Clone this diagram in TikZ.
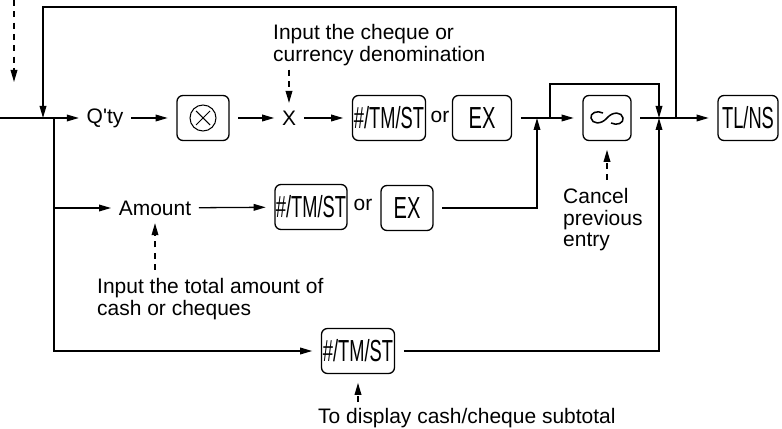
\documentclass[tikz,border=0pt]{standalone}
\usepackage{fontspec}
\setmainfont{Liberation Sans}
\usepackage{tikz}
\usetikzlibrary{arrows.meta, positioning, calc}
\newcommand{\keycap}[2][0.6]{\scalebox{#1}[1]{\fontsize{26}{26}\selectfont #2}}

\begin{document}
\begin{tikzpicture}[
  x=0.03cm, y=-0.03cm,
  font=\fontsize{17.9}{18.5}\selectfont,
  line/.style={line width=1.1pt},
  arr/.style={line, -{Triangle[length=0.36cm,width=0.2cm]}},
  darr/.style={arr, dash pattern=on 0.18cm off 0.16cm},
  key/.style={draw, line width=1.1pt, rounded corners=0.18cm, minimum height=1.35cm, inner sep=0pt, outer sep=0.28cm},
  word/.style={inner sep=1pt, outer sep=0.2cm},
  note/.style={align=left, inner sep=0pt, anchor=north west}
]
  \useasboundingbox (0,0) rectangle (782,429);

  \coordinate (start)  at (0,118);
  \coordinate (loopL)  at (43,118);
  \coordinate (branch) at (54,118);
  \coordinate (topy)   at (0,7);
  \coordinate (dtop)   at (14,0);
  \coordinate (dtip)   at (14,82);

  \node[word] (qty) at (105,118) {Q\textquotesingle ty};
  \node[key, minimum width=1.56cm] (mul) at (203,118) {};
  \node[word] (xx) at (289,118) {X};
  \node[key, minimum width=2.19cm] (hash1) at (389,118) {\keycap{\#/TM/ST}};
  \node (or1) at (440,117) {or};
  \node[key, minimum width=1.77cm] (ex1) at (482,118) {\keycap[0.66]{EX}};
  \coordinate (j1)  at (537,118);
  \coordinate (byp) at (550,118);
  \node[key, minimum width=1.44cm] (inf) at (607,118) {};
  \coordinate (j2) at (659,118);
  \coordinate (j3) at (676,118);
  \node[key, minimum width=1.8cm] (tlns) at (748,118) {\keycap{TL/NS}};

  \node[word] (amount) at (155,208) {Amount};
  \node[key, minimum width=2.16cm] (hash2) at (311,207) {\keycap{\#/TM/ST}};
  \node (or2) at (363,205) {or};
  \node[key, minimum width=1.56cm] (ex2) at (407,208) {\keycap[0.66]{EX}};

  \node[key, minimum width=2.19cm] (hash3) at (358,351) {\keycap{\#/TM/ST}};

  \node[note] (note1) at (273,24) {Input the cheque or\\currency denomination};
  \node[note] (note2) at (97,278) {Input the total amount of\\cash or cheques};
  \node[note] (note3) at (563,188) {Cancel\\previous\\entry};
  \node[note] (note4) at (318,408) {To display cash/cheque subtotal};

  \draw[line, line width=0.9pt] (mul.center) circle (0.39cm);
  \draw[line, line width=0.9pt] ($(mul.center)+(-7,-7)$) -- ($(mul.center)+(7,7)$);
  \draw[line, line width=0.9pt] ($(mul.center)+(-7,7)$) -- ($(mul.center)+(7,-7)$);
  \draw[line, line width=1.3pt, shift={(inf.center)}] (-4,-5) .. controls (-10,-8) and (-17,-5) .. (-16,0)
    .. controls (-15,6) and (-6,7) .. (0,0) .. controls (6,-7) and (15,-6) .. (16,0)
    .. controls (17,5) and (10,8) .. (4,5);

  \draw[arr] (start) -- (qty);
  \draw[arr] (j3) -- (j3 |- topy) -| (loopL);
  \draw[arr] (branch) |- (amount);
  \draw[arr] (branch) |- (hash3);
  \draw[arr] (qty) -- (mul);
  \draw[arr] (mul) -- (xx);
  \draw[arr] (xx) -- (hash1);
  \draw[arr] (ex1) -- (inf);
  \draw[arr] (byp) -- ++(0,-34) -| (j2);
  \draw[arr] (inf) -- (tlns);
  \draw[arr] (amount) -- (hash2);
  \draw[arr] (ex2) -| (j1);
  \draw[arr] (hash3) -| (j2);

  \draw[darr] (dtop) -- (dtip);
  \draw[darr] ([yshift=-0.12cm]xx |- note1.south) -- (xx);
  \draw[darr] ([yshift=0.24cm]amount |- note2.north) -- (amount);
  \draw[darr] ([yshift=0.24cm]inf |- note3.north) -- (inf);
  \draw[darr] ([yshift=0.18cm]hash3 |- note4.north) -- (hash3);
\end{tikzpicture}
\end{document}
